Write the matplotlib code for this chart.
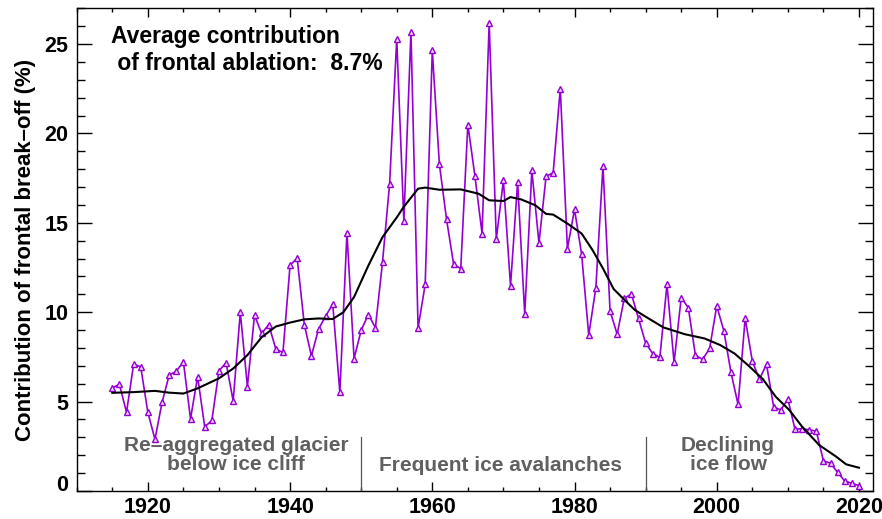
import matplotlib
matplotlib.use("Agg")
import matplotlib.pyplot as plt
from matplotlib.ticker import MultipleLocator
import matplotlib.transforms as mtransforms

plt.rcParams['font.family'] = ['Liberation Sans', 'DejaVu Sans']

years = list(range(1915, 2021))
breakoff = [
    5.77, 5.96, 4.40, 7.09, 6.94, 4.40, 2.89, 4.96, 6.48, 6.70,   # 1915-1924
    7.22, 4.04, 6.39, 3.58, 3.95, 6.72, 7.17, 5.04, 10.0, 5.84,   # 1925-1934
    9.83, 8.81, 9.31, 7.93, 7.75, 12.63, 13.02, 9.31, 7.56, 9.05, # 1935-1944
    9.78, 10.45, 5.51, 14.43, 7.41, 8.99, 9.87, 9.14, 12.8, 17.19, # 1945-1954
    25.3, 15.1, 25.7, 9.12, 11.55, 24.64, 18.27, 15.21, 12.68, 12.44, # 1955-1964
    20.5, 17.6, 14.4, 26.2, 14.08, 17.37, 11.47, 17.29, 9.89, 17.93, # 1965-1974
    13.87, 17.6, 17.8, 22.51, 13.56, 15.75, 13.24, 8.72, 11.36, 18.16, # 1975-1984
    10.06, 8.77, 10.78, 11.02, 9.65, 8.27, 7.69, 7.47, 11.55, 7.19,  # 1985-1994
    10.8, 10.26, 7.6, 7.36, 7.97, 10.35, 8.96, 6.63, 4.84, 9.66,     # 1995-2004
    7.27, 6.24, 7.09, 4.71, 4.53, 5.14, 3.46, 3.48, 3.42, 3.35,      # 2005-2014
    1.69, 1.55, 1.04, 0.56, 0.43, 0.30                               # 2015-2020
]

smooth_years = [1915, 1918, 1921, 1923, 1925, 1927, 1930, 1932, 1934, 1936,
                1938, 1940, 1942, 1944, 1946, 1947.5, 1949, 1951, 1953, 1955,
                1956, 1958, 1959, 1961, 1964, 1966.5, 1968, 1970, 1971, 1972.5,
                1974.5, 1976, 1977, 1979, 1981, 1982.5, 1984, 1985.5, 1987, 1988.5,
                1990, 1992.5, 1995.5, 1998.3, 2000.5, 2002.5, 2004.5, 2006.5, 2008.3, 2010.2,
                2012, 2014.4, 2016.8, 2018.2, 2020]
smooth_vals = [5.49, 5.53, 5.60, 5.50, 5.45, 5.74, 6.30, 6.85, 7.60, 8.60,
               9.20, 9.42, 9.60, 9.65, 9.62, 10.0, 10.85, 12.6, 14.2, 15.3,
               15.9, 16.91, 16.97, 16.85, 16.87, 16.63, 16.26, 16.22, 16.44, 16.31,
               15.98, 15.5, 15.46, 14.96, 14.4, 13.5, 12.45, 11.3, 10.7, 10.12,
               9.75, 9.15, 8.77, 8.53, 8.16, 7.69, 7.0, 6.25, 5.27, 4.53,
               3.6, 2.57, 1.92, 1.49, 1.3]

phase_bounds = [1950, 1990]
phase_labels = ["Re\u2013aggregated glacier\nbelow ice cliff",
                "Frequent ice avalanches",
                "Declining\nice flow"]
phase_x = [1932.4, 1969.6, 2001.6]
phase_y = [2.04, 1.40, 2.04]

purple = '#9400D3'
grey = '#606060'

fig = plt.figure(figsize=(8.82, 5.19), dpi=100)
ax = fig.add_axes([0.087, 0.054, 0.903, 0.930])

ax.plot(years, breakoff, color=purple, lw=1.2, marker='^', ms=5,
        mfc='#ecd6f7', mec=purple, mew=1.0, zorder=3)
ax.plot(smooth_years, smooth_vals, color='black', lw=1.5, zorder=4)

ax.set_xlim(1910, 2022)
ax.set_ylim(0, 27)

for b in phase_bounds:
    ax.plot([b, b], [0, 3.0], color='#555555', lw=0.9, zorder=2)
for x, y, t in zip(phase_x, phase_y, phase_labels):
    ax.text(x, y, t, ha='center', va='center', color=grey, fontsize=15,
            fontweight='bold', linespacing=1.0)

ax.text(0.043, 0.965, "Average contribution\n of frontal ablation:  8.7%",
        transform=ax.transAxes, ha='left', va='top', fontsize=16.5,
        fontweight='bold', linespacing=1.2)

ax.set_ylabel("Contribution of frontal break\u2013off (%)", fontsize=16,
              fontweight='bold', labelpad=6)

ax.xaxis.set_major_locator(MultipleLocator(20))
ax.xaxis.set_minor_locator(MultipleLocator(5))
ax.yaxis.set_major_locator(MultipleLocator(5))
ax.yaxis.set_minor_locator(MultipleLocator(1))

ax.tick_params(axis='x', which='major', direction='in', length=6.5, width=1,
               top=True, bottom=True, labelsize=15.5, pad=4)
ax.tick_params(axis='x', which='minor', direction='in', length=3.2, width=1,
               top=True, bottom=True)
ax.tick_params(axis='y', which='major', direction='in', length=10.5, width=1,
               left=True, right=True, labelsize=15.5, pad=6)
ax.tick_params(axis='y', which='minor', direction='in', length=5.5, width=1,
               left=True, right=True)

for lab in ax.get_xticklabels() + ax.get_yticklabels():
    lab.set_fontweight('bold')

fig.canvas.draw()
off = mtransforms.ScaledTranslation(0, 8/100, fig.dpi_scale_trans)
for t, lab in zip(ax.get_yticks(), ax.get_yticklabels()):
    if abs(t) < 1e-9:
        lab.set_transform(lab.get_transform() + off)

for s in ax.spines.values():
    s.set_linewidth(1.0)

fig.savefig('out.png', dpi=100)
